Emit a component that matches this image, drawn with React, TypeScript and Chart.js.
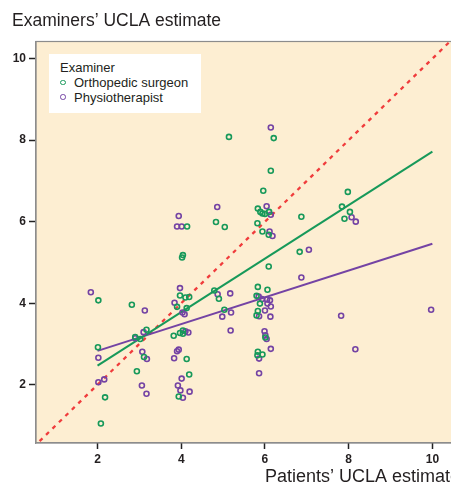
import React, { useEffect, useRef } from "react";
import { Chart, registerables } from "chart.js";

Chart.register(...registerables);

// ---- data ----
const chartTitle = "Examiners’ UCLA estimate";
const xTitle = "Patients’ UCLA estimate";
const legendTitle = "Examiner";
const seriesNames = ["Orthopedic surgeon", "Physiotherapist"];

const xTicks = [2, 4, 6, 8, 10];
const yTicks = [2, 4, 6, 8, 10];

const orthoX = [
  5.14, 6.21, 6.14, 5.96, 7.98, 5.83, 5.89, 5.94, 6.0, 6.1, 4.83, 5.04, 4.14, 5.82, 5.94, 6.09,
  6.87, 7.84, 8.03, 7.9, 6.83, 6.09, 4.04, 4.02, 2.02, 2.82, 3.97, 4.1, 4.19, 3.9, 4.13, 4.79,
  4.9, 5.03, 2.01, 2.9, 3.02, 3.17, 3.11, 3.82, 3.97, 4.04, 4.04, 4.13, 2.94, 2.18, 2.08, 4.19,
  3.94, 5.83, 6.06, 5.8, 5.88, 5.83, 5.8, 6.01, 5.83, 5.82, 5.94,
];
const orthoY = [
  8.08, 8.05, 7.25, 6.76, 6.73, 6.32, 6.24, 6.2, 6.19, 6.24, 5.99, 5.87, 5.88, 5.96, 5.76, 5.68,
  6.12, 6.37, 6.24, 6.07, 5.26, 4.9, 5.18, 5.12, 4.07, 3.96, 4.19, 4.14, 4.15, 3.91, 3.88, 4.31,
  4.11, 3.84, 2.92, 3.17, 3.12, 3.35, 2.68, 3.2, 3.27, 3.33, 3.25, 2.63, 2.33, 1.69, 1.05, 2.25,
  1.71, 4.4, 4.33, 4.18, 3.99, 3.81, 3.7, 3.16, 2.81, 2.72, 2.74,
];

const physioX = [
  6.14, 3.94, 3.9, 4.01, 4.86, 6.04, 6.14, 6.11, 6.18, 8.07, 8.17, 7.05, 6.87, 1.84, 3.13, 3.97,
  3.84, 4.03, 4.08, 4.87, 5.17, 4.98, 5.19, 5.18, 2.02, 2.9, 3.1, 3.07, 3.18, 4.1, 4.17, 3.9,
  3.94, 3.83, 2.02, 2.16, 3.06, 3.17, 4.01, 3.92, 3.98, 4.04, 4.2, 5.85, 5.93, 6.05, 6.12, 6.06,
  6.14, 6.0, 5.86, 6.13, 5.99, 6.01, 6.04, 6.14, 5.86, 5.86, 7.82, 8.16, 9.97,
];
const physioY = [
  8.31, 6.14, 5.88, 5.88, 6.36, 6.38, 6.17, 5.76, 5.65, 6.11, 6.0, 5.31, 4.63, 4.27, 3.82, 4.37,
  4.01, 3.77, 3.73, 4.22, 4.24, 3.67, 3.77, 3.33, 2.66, 3.14, 3.29, 2.81, 2.63, 3.31, 3.28, 2.82,
  2.86, 2.65, 2.06, 2.13, 1.98, 1.78, 2.15, 1.98, 1.86, 1.68, 1.83, 4.16, 4.1, 4.09, 4.07, 3.99,
  3.92, 3.82, 3.68, 3.67, 3.31, 3.21, 3.12, 2.88, 2.64, 2.28, 3.69, 2.87, 3.84,
];

// fitted regression lines (endpoints)
const fitX = [2, 10];
const orthoFitY = [2.47, 7.72];
const physioFitY = [2.83, 5.46];

// line of equality
const identityX = [0, 11];

// ---- styles ----
const FONT = "'Liberation Sans', Arial, sans-serif";
const GREEN = "#17995a";
const PURPLE = "#7443a4";
const RED = "#f03c3c";
const PEACH = "#fdeed2";
const TEXT = "#231f20";
const FRAME = "#8c8c8c";

const plotBg = {
  id: "plotBg",
  beforeDraw(chart: any) {
    const { ctx, chartArea } = chart;
    const { left, top, right, bottom } = chartArea;
    ctx.save();
    ctx.fillStyle = PEACH;
    ctx.fillRect(left, top, right - left, bottom - top);
    ctx.strokeStyle = FRAME;
    ctx.lineWidth = 1.2;
    ctx.strokeRect(left, top, right - left, bottom - top);
    ctx.restore();
  },
};

export default function App() {
  const ref = useRef<HTMLCanvasElement | null>(null);

  useEffect(() => {
    if (!ref.current) return;
    const pts = (xs: number[], ys: number[]) => xs.map((x, i) => ({ x, y: ys[i] }));
    const chart = new Chart(ref.current, {
      type: "scatter",
      data: {
        datasets: [
          {
            label: seriesNames[0],
            data: pts(orthoX, orthoY),
            borderColor: GREEN,
            backgroundColor: "rgba(0,0,0,0)",
            pointRadius: 2.5,
            borderWidth: 1.6,
          },
          {
            label: seriesNames[1],
            data: pts(physioX, physioY),
            borderColor: PURPLE,
            backgroundColor: "rgba(0,0,0,0)",
            pointRadius: 2.5,
            borderWidth: 1.6,
          },
          {
            label: "fit ortho",
            data: pts(fitX, orthoFitY),
            showLine: true,
            borderColor: GREEN,
            borderWidth: 2,
            pointRadius: 0,
          },
          {
            label: "fit physio",
            data: pts(fitX, physioFitY),
            showLine: true,
            borderColor: PURPLE,
            borderWidth: 2,
            pointRadius: 0,
          },
          {
            label: "identity",
            data: pts(identityX, identityX),
            showLine: true,
            borderColor: RED,
            borderWidth: 2.3,
            borderDash: [4, 5],
            pointRadius: 0,
          },
        ],
      },
      options: {
        responsive: false,
        animation: false,
        layout: { padding: { left: 12, right: 16, top: 0, bottom: 0 } },
        plugins: {
          legend: { display: false },
          tooltip: { enabled: false },
          title: {
            display: true,
            text: chartTitle,
            align: "start",
            color: TEXT,
            font: { family: FONT, size: 17.5, weight: "normal" },
            padding: { top: 10.5, bottom: 10 },
          },
        },
        scales: {
          x: {
            type: "linear",
            min: 0.53,
            max: 10.66,
            afterBuildTicks: (s: any) => {
              s.ticks = xTicks.map((v) => ({ value: v }));
            },
            afterFit: (s: any) => {
              s.height = 47;
            },
            grid: {
              display: true,
              drawOnChartArea: false,
              drawTicks: true,
              tickLength: 6,
              color: "#222",
              tickColor: "#222",
              tickWidth: 1.5,
            },
            border: { display: true, color: FRAME, width: 1.2 },
            ticks: {
              color: TEXT,
              padding: 3,
              maxRotation: 0,
              font: { family: FONT, size: 12, weight: "bold" },
            },
            title: {
              display: true,
              text: xTitle,
              align: "end",
              color: TEXT,
              font: { family: FONT, size: 18, weight: "normal" },
              padding: { top: 0, bottom: 2 },
            },
          },
          y: {
            type: "linear",
            min: 0.57,
            max: 10.42,
            afterBuildTicks: (s: any) => {
              s.ticks = yTicks.map((v) => ({ value: v }));
            },
            afterFit: (s: any) => {
              s.width = 24;
            },
            grid: {
              display: true,
              drawOnChartArea: false,
              drawTicks: true,
              tickLength: 7,
              color: "#222",
              tickColor: "#222",
              tickWidth: 1.5,
            },
            border: { display: true, color: FRAME, width: 1.2 },
            ticks: {
              color: TEXT,
              padding: 3,
              font: { family: FONT, size: 12, weight: "bold" },
            },
          },
        },
      },
      plugins: [plotBg],
    } as any);
    return () => chart.destroy();
  }, []);

  const ring = (color: string) => ({
    position: "absolute" as const,
    width: 3.5,
    height: 3.5,
    border: `1.5px solid ${color}`,
    borderRadius: "50%",
  });
  const txt = {
    position: "absolute" as const,
    fontFamily: FONT,
    fontSize: 13,
    color: TEXT,
    lineHeight: "15px",
    whiteSpace: "nowrap" as const,
  };

  return (
    <div
      style={{
        position: "absolute",
        left: 0,
        top: 0,
        width: 451,
        height: 484,
        overflow: "hidden",
        background: "#fff",
      }}
    >
      <canvas ref={ref} width={476} height={490} style={{ width: 476, height: 490, display: "block" }} />
      <div
        style={{
          position: "absolute",
          left: 49,
          top: 54,
          width: 152,
          height: 59,
          background: "#fff",
        }}
      >
        <div style={{ ...txt, left: 11, top: 6 }}>{legendTitle}</div>
        <div style={{ ...ring(GREEN), left: 11, top: 25.5 }} />
        <div style={{ ...txt, left: 25, top: 21 }}>{seriesNames[0]}</div>
        <div style={{ ...ring(PURPLE), left: 11, top: 40 }} />
        <div style={{ ...txt, left: 25, top: 35.5 }}>{seriesNames[1]}</div>
      </div>
    </div>
  );
}
